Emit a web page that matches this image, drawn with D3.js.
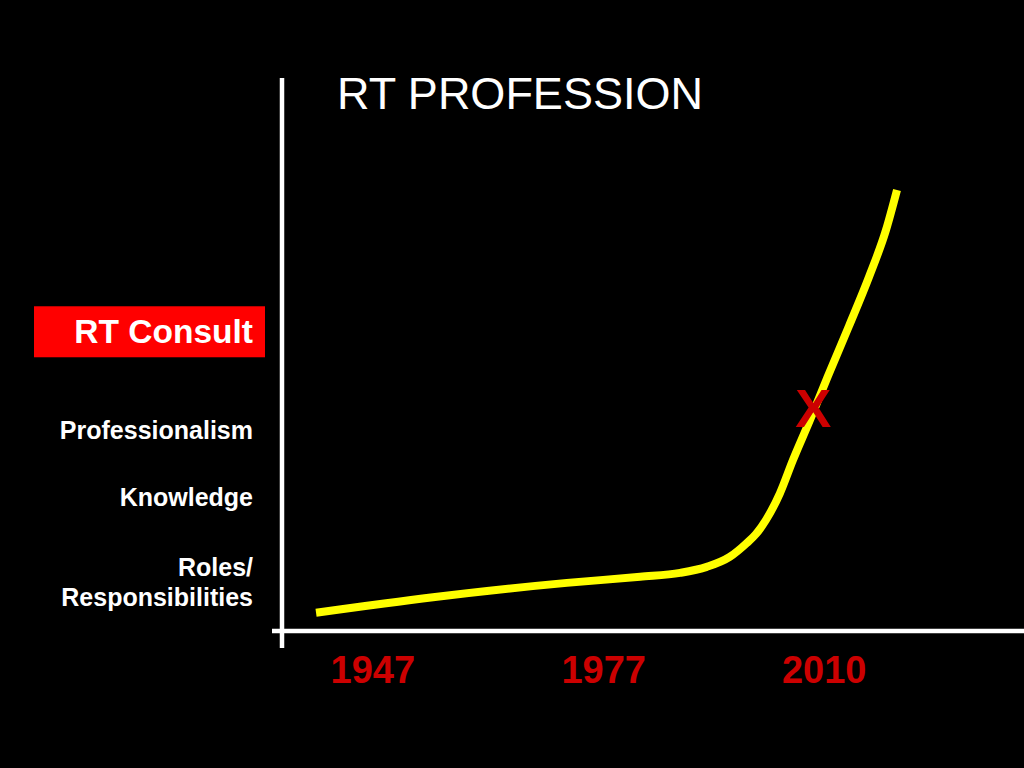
<!DOCTYPE html>
<html>
<head>
<meta charset="utf-8">
<script src="https://cdn.jsdelivr.net/npm/d3@7/dist/d3.min.js"></script>
<style>
  html, body { margin: 0; padding: 0; background: #000; }
  svg { display: block; }
  text { font-family: "Liberation Sans", Arial, Helvetica, sans-serif; }
</style>
</head>
<body>
<svg id="chart" width="1024" height="768"></svg>
<script>
// ---- data ----
const title = "RT PROFESSION";
const years = ["1947", "1977", "2010"];
const yearAt = [12.2, 43.4, 73.2];            // positions on the progress (time) axis
const levelLabels = [["Roles/", "Responsibilities"], ["Knowledge"], ["Professionalism"]];
const levelValues = [8.7, 24.1, 36.2];
const highlightLabel = "RT Consult";
const highlightValue = 54.2;
const curveX = [4.6, 20.4, 38.5, 48.4, 53.8, 57.4, 60.5, 62.8, 64.05, 65.4, 67.3, 69.05, 71.35, 73.78, 76.62, 79.32, 81.62, 83.11];
const curveY = [3.3, 6.1, 8.7, 9.8, 10.5, 11.6, 13.4, 15.9, 17.54, 20.07, 24.95, 30.92, 38.16, 46.11, 55.15, 64.01, 72.51, 79.75];
const marker = { x: 71.8, y: 40.5, label: "X" };

// ---- chart ----
const svg = d3.select("#chart");
svg.append("rect").attr("width", 1024).attr("height", 768).attr("fill", "#000");

const x = d3.scaleLinear().domain([0, 100]).range([282, 1022]);
const y = d3.scaleLinear().domain([0, 100]).range([631, 78]);

// axes lines
svg.append("line")
  .attr("x1", x(0)).attr("x2", x(0))
  .attr("y1", y(100)).attr("y2", y(0) + 17)
  .attr("stroke", "#fff").attr("stroke-width", 4.5);
svg.append("line")
  .attr("x1", x(0) - 10).attr("x2", 1024)
  .attr("y1", y(0)).attr("y2", y(0))
  .attr("stroke", "#fff").attr("stroke-width", 4.5);

// title
svg.append("text")
  .attr("x", 337).attr("y", 109)
  .attr("fill", "#fff").attr("font-size", 45)
  .text(title);

// year axis
const xAxis = d3.axisBottom(x)
  .tickValues(yearAt)
  .tickFormat((d, i) => years[i])
  .tickSize(0).tickPadding(0);
const gx = svg.append("g").attr("transform", `translate(0,${y(0)})`).call(xAxis);
gx.select(".domain").remove();
gx.selectAll("text")
  .attr("dy", null).attr("y", 52)
  .attr("fill", "#cc0000")
  .attr("font-size", 38).attr("font-weight", "bold")
  .attr("font-family", "Liberation Sans, Arial, sans-serif");

// level labels
const lab = svg.append("g");
levelLabels.forEach((lines, i) => {
  const cy = y(levelValues[i]);
  const n = lines.length;
  const lh = 30;
  const t = lab.append("text")
    .attr("text-anchor", "end")
    .attr("fill", "#fff").attr("font-size", 25).attr("font-weight", "bold");
  lines.forEach((s, j) => {
    t.append("tspan")
      .attr("x", 253)
      .attr("y", cy + 8 + (j - (n - 1) / 2) * lh)
      .text(s);
  });
});

// highlight box
const hy = y(highlightValue);
svg.append("rect")
  .attr("x", 34).attr("y", hy - 25)
  .attr("width", 231).attr("height", 51)
  .attr("fill", "#ff0000");
svg.append("text")
  .attr("x", 253).attr("y", hy + 12)
  .attr("text-anchor", "end")
  .attr("fill", "#fff").attr("font-size", 33.5).attr("font-weight", "bold")
  .text(highlightLabel);

// curve
const pts = curveX.map((d, i) => [d, curveY[i]]);
const line = d3.line()
  .x(d => x(d[0])).y(d => y(d[1]))
  .curve(d3.curveMonotoneX);
svg.append("path")
  .datum(pts)
  .attr("d", line)
  .attr("fill", "none")
  .attr("stroke", "#ffff00")
  .attr("stroke-width", 8)
  .attr("stroke-linecap", "butt");

// marker X
svg.append("text")
  .attr("x", x(marker.x)).attr("y", y(marker.y) + 20)
  .attr("text-anchor", "middle")
  .attr("fill", "#cc0000").attr("font-size", 54).attr("font-weight", "bold")
  .text(marker.label);
</script>
</body>
</html>
